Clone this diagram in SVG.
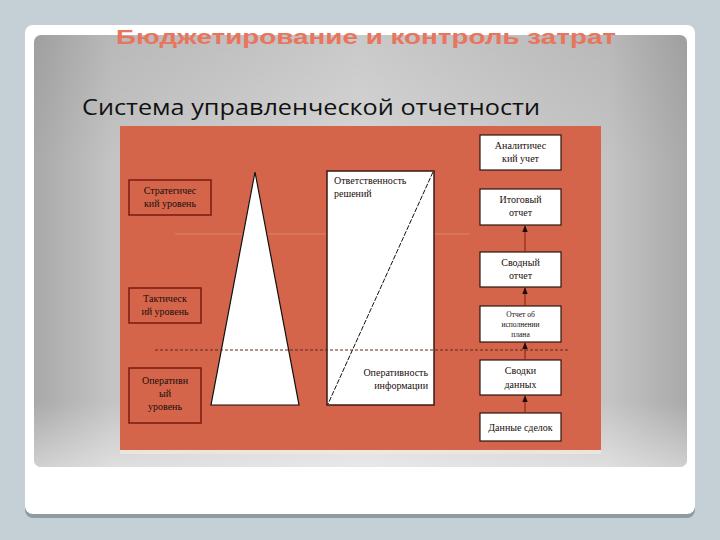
<svg xmlns="http://www.w3.org/2000/svg" width="720" height="540" viewBox="0 0 720 540">
<defs>
<linearGradient id="panel" x1="0" y1="0" x2="1" y2="0">
<stop offset="0" stop-color="#a9a9a9"/>
<stop offset="0.12" stop-color="#c4c4c4"/>
<stop offset="0.5" stop-color="#d6d6d6"/>
<stop offset="0.88" stop-color="#c4c4c4"/>
<stop offset="1" stop-color="#a9a9a9"/>
</linearGradient>
<linearGradient id="panelv" x1="0" y1="0" x2="0" y2="1">
<stop offset="0" stop-color="#000" stop-opacity="0.06"/>
<stop offset="0.3" stop-color="#000" stop-opacity="0"/>
<stop offset="0.85" stop-color="#fff" stop-opacity="0"/>
<stop offset="1" stop-color="#fff" stop-opacity="0.45"/>
</linearGradient>
<marker id="ah" viewBox="0 0 10 10" refX="9" refY="5" markerWidth="6" markerHeight="6" orient="auto">
<path d="M0,1 L10,5 L0,9 z" fill="#1a0a08"/>
</marker>
</defs>
<style>
.lbl{font-family:"Liberation Serif","Times New Roman",serif;font-size:10px;fill:#1a0d0a;}
.sm{font-size:7.5px;}
.lvl{fill:#d4654a;stroke:#7a1a10;stroke-width:1.5;}
.rep{fill:#ffffff;stroke:#2a1410;stroke-width:1.2;}
.conn{stroke:#8a2a1c;stroke-width:1.2;fill:none;marker-end:url(#ah);}
</style>
<rect x="0" y="0" width="720" height="540" fill="#c5d0d6"/>
<rect x="25" y="27" width="670" height="491" rx="8" fill="#8e9ca2"/>
<rect x="25" y="25" width="670" height="489" rx="8" fill="#ffffff"/>
<rect x="34" y="35" width="653" height="432" rx="7" fill="url(#panel)"/>
<rect x="34" y="35" width="653" height="432" rx="7" fill="url(#panelv)"/>
<text x="366" y="44" text-anchor="middle" font-family="Liberation Sans, Arial, sans-serif" font-weight="bold" font-size="21" fill="#e8765e" textLength="500" lengthAdjust="spacingAndGlyphs">Бюджетирование и контроль затрат</text>
<text x="82" y="115" font-family="Open Sans, Liberation Sans, sans-serif" font-size="21" fill="#111" textLength="458" lengthAdjust="spacingAndGlyphs">Система управленческой отчетности</text>
<rect x="120" y="126" width="481" height="324" fill="#d4654a"/>
<rect x="120" y="450" width="481" height="4" fill="#f0e6e0" opacity="0.8"/>
<line x1="175" y1="234" x2="470" y2="234" stroke="#e0a090" stroke-width="1" opacity="0.6"/>
<g id="pyramid">
<polygon points="255,172 299,405 211,405" fill="#ffffff" stroke="#111" stroke-width="1.2"/>
</g>
<g id="responsibility">
<rect x="327" y="171" width="107" height="234" fill="#ffffff" stroke="#3a1a14" stroke-width="1.5"/>
<line x1="433" y1="172" x2="328" y2="404" stroke="#111" stroke-width="1" stroke-dasharray="5,1.5"/>
<text class="lbl" x="334" y="184">Ответственность</text>
<text class="lbl" x="334" y="197">решений</text>
<text class="lbl" x="428" y="376" text-anchor="end">Оперативность</text>
<text class="lbl" x="428" y="389" text-anchor="end">информации</text>
</g>
<line x1="155" y1="350" x2="570" y2="350" stroke="#5a2a20" stroke-width="1" stroke-dasharray="3,2"/>
<g id="strategic">
<rect class="lvl" x="129" y="180" width="82" height="35"/>
<text class="lbl" x="170" y="194" text-anchor="middle">Стратегичес</text>
<text class="lbl" x="170" y="207" text-anchor="middle">кий уровень</text>
</g>
<g id="tactical">
<rect class="lvl" x="129" y="288" width="72" height="35"/>
<text class="lbl" x="165" y="302" text-anchor="middle">Тактическ</text>
<text class="lbl" x="165" y="315" text-anchor="middle">ий уровень</text>
</g>
<g id="operative">
<rect class="lvl" x="129" y="368" width="72" height="55"/>
<text class="lbl" x="165" y="384" text-anchor="middle">Оперативн</text>
<text class="lbl" x="165" y="397" text-anchor="middle">ый</text>
<text class="lbl" x="165" y="410" text-anchor="middle">уровень</text>
</g>
<g id="analytic">
<rect class="rep" x="480" y="135" width="81" height="35"/>
<text class="lbl" x="520.5" y="149" text-anchor="middle">Аналитичес</text>
<text class="lbl" x="520.5" y="162" text-anchor="middle">кий учет</text>
</g>
<g id="final">
<rect class="rep" x="480" y="189" width="81" height="36"/>
<text class="lbl" x="520.5" y="203" text-anchor="middle">Итоговый</text>
<text class="lbl" x="520.5" y="216" text-anchor="middle">отчет</text>
</g>
<g id="summary">
<rect class="rep" x="480" y="252" width="81" height="35"/>
<text class="lbl" x="520.5" y="266" text-anchor="middle">Сводный</text>
<text class="lbl" x="520.5" y="279" text-anchor="middle">отчет</text>
</g>
<g id="plan">
<rect class="rep" x="480" y="306" width="81" height="36"/>
<text class="lbl sm" x="520.5" y="317" text-anchor="middle">Отчет об</text>
<text class="lbl sm" x="520.5" y="327" text-anchor="middle">исполнении</text>
<text class="lbl sm" x="520.5" y="337" text-anchor="middle">плана</text>
</g>
<g id="digest">
<rect class="rep" x="480" y="360" width="81" height="35"/>
<text class="lbl" x="520.5" y="374" text-anchor="middle">Сводки</text>
<text class="lbl" x="520.5" y="388" text-anchor="middle">данных</text>
</g>
<g id="deals">
<rect class="rep" x="480" y="413" width="81" height="28"/>
<text class="lbl" x="520.5" y="431" text-anchor="middle">Данные сделок</text>
</g>
<g id="connectors">
<line class="conn" x1="525" y1="252" x2="525" y2="226"/>
<line class="conn" x1="525" y1="306" x2="525" y2="288"/>
<line class="conn" x1="525" y1="360" x2="525" y2="343"/>
<line class="conn" x1="525" y1="413" x2="525" y2="396"/>
</g>
</svg>
